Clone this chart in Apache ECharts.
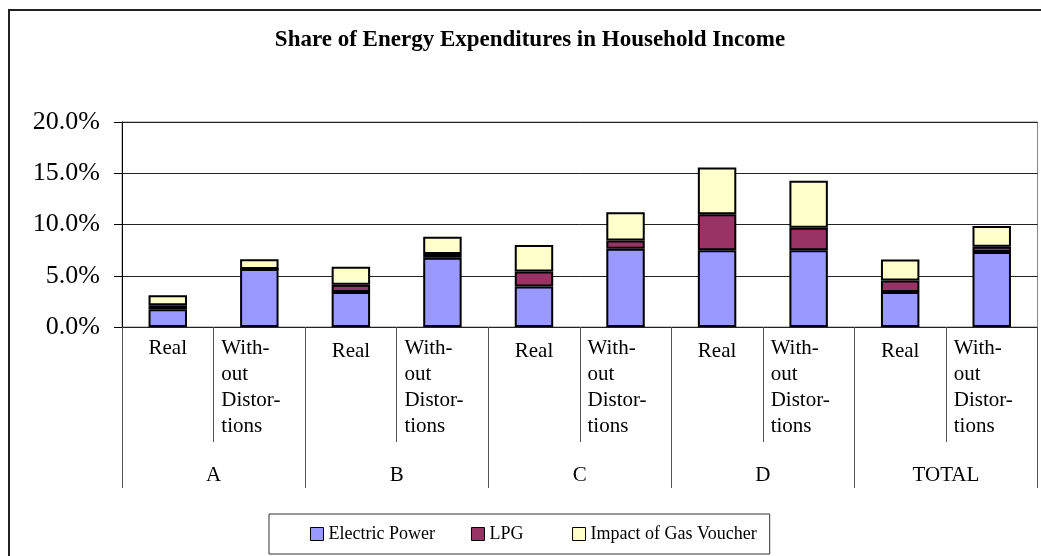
<!DOCTYPE html>
<html>
<head>
<meta charset="utf-8">
<script src="https://cdn.jsdelivr.net/npm/echarts@6/dist/echarts.min.js"></script>
<style>html,body{margin:0;padding:0;background:#fff;}#c{width:1041px;height:556px;}</style>
</head>
<body>
<div id="c"></div>
<script>
var chartTitle = 'Share of Energy Expenditures in Household Income';
var barLabels = ['Real', 'With-\nout\nDistor-\ntions', 'Real', 'With-\nout\nDistor-\ntions', 'Real', 'With-\nout\nDistor-\ntions', 'Real', 'With-\nout\nDistor-\ntions', 'Real', 'With-\nout\nDistor-\ntions'];
var groups = ['A', 'B', 'C', 'D', 'TOTAL'];
var seriesNames = ['Electric Power', 'LPG', 'Impact of Gas Voucher'];
var electricPower = [1.73, 5.65, 3.42, 6.75, 3.95, 7.63, 7.48, 7.48, 3.42, 7.31];
var lpg = [0.39, 0.0, 0.69, 0.36, 1.47, 0.82, 3.52, 2.21, 1.12, 0.52];
var gasVoucher = [0.98, 0.97, 1.76, 1.70, 2.57, 2.74, 4.56, 4.57, 2.05, 2.02];
var yTicks = [0, 5, 10, 15, 20];

var FONT = '"Liberation Serif", "Times New Roman", serif';
var colors = ['#9999FF', '#993366', '#FFFFCC'];
var chart = echarts.init(document.getElementById('c'));
var valuesList = [electricPower, lpg, gasVoucher];
var series = seriesNames.map(function (n, k) {
  return {
    name: n, type: 'bar', stack: 'total', xAxisIndex: 0, barWidth: '42%',
    data: valuesList[k],
    itemStyle: { color: colors[k], borderColor: '#000', borderWidth: 2 },
    emphasis: { disabled: true }
  };
});
chart.setOption({
  animation: false,
  backgroundColor: '#fff',
  title: {
    text: chartTitle, left: 525, top: 24, textAlign: 'center',
    textStyle: { fontFamily: FONT, fontSize: 23, fontWeight: 'bold', color: '#000' }
  },
  graphic: [{
    type: 'rect', shape: { x: 9, y: 10, width: 1100, height: 600 },
    style: { fill: 'none', stroke: '#222', lineWidth: 2 }, silent: true, z: 100
  }],
  grid: { left: 122, right: 3.5, top: 122, bottom: 229, show: true, borderColor: '#888', borderWidth: 1 },
  legend: {
    left: 269, top: 514, padding: [11, 13, 11, 41], itemGap: 36, itemWidth: 13, itemHeight: 13,
    borderColor: '#333', borderWidth: 1, icon: 'rect',
    itemStyle: { borderColor: '#000', borderWidth: 1 },
    formatter: function (name) { return name === 'LPG' ? name + '\u2002\u2009' : name; },
    textStyle: { fontFamily: FONT, fontSize: 18, color: '#000' },
    data: seriesNames
  },
  xAxis: [{
    type: 'category', data: barLabels, position: 'bottom',
    axisLine: { show: true, lineStyle: { color: '#222', width: 1 } },
    axisTick: { show: true, length: 115, lineStyle: { color: '#555' } },
    axisLabel: {
      interval: 0, margin: 8, hideOverlap: false,
      formatter: function (v, i) {
        if (v === 'Real') return i === 0 ? '{ra|Real}' : '{r|Real}';
        return v.split('\n').map(function (s) { return '{w|' + s + '}'; }).join('\n');
      },
      rich: {
        ra: { fontFamily: FONT, fontSize: 21, color: '#000', lineHeight: 26 },
        r: { fontFamily: FONT, fontSize: 21, color: '#000', lineHeight: 26, padding: [6, 0, 0, 0] },
        w: { fontFamily: FONT, fontSize: 21, color: '#000', lineHeight: 26, width: 76, align: 'left' }
      }
    },
    splitLine: { show: false }
  }, {
    type: 'category', data: groups, position: 'bottom', offset: 0,
    axisLine: { show: false },
    axisTick: { show: true, length: 161, lineStyle: { color: '#555' } },
    axisLabel: { interval: 0, margin: 138, fontFamily: FONT, fontSize: 21, color: '#000' },
    splitLine: { show: false }
  }],
  yAxis: {
    type: 'value', min: yTicks[0], max: yTicks[yTicks.length - 1], interval: 5,
    axisLine: { show: true, lineStyle: { color: '#000' } },
    axisTick: { show: true, length: 8, lineStyle: { color: '#000' } },
    axisLabel: {
      margin: 22, fontFamily: FONT, fontSize: 26, color: '#000',
      formatter: function (v) { return v.toFixed(1) + '%'; }
    },
    splitLine: { show: true, lineStyle: { color: '#222', width: 1 } }
  },
  series: series
});
</script>
</body>
</html>
